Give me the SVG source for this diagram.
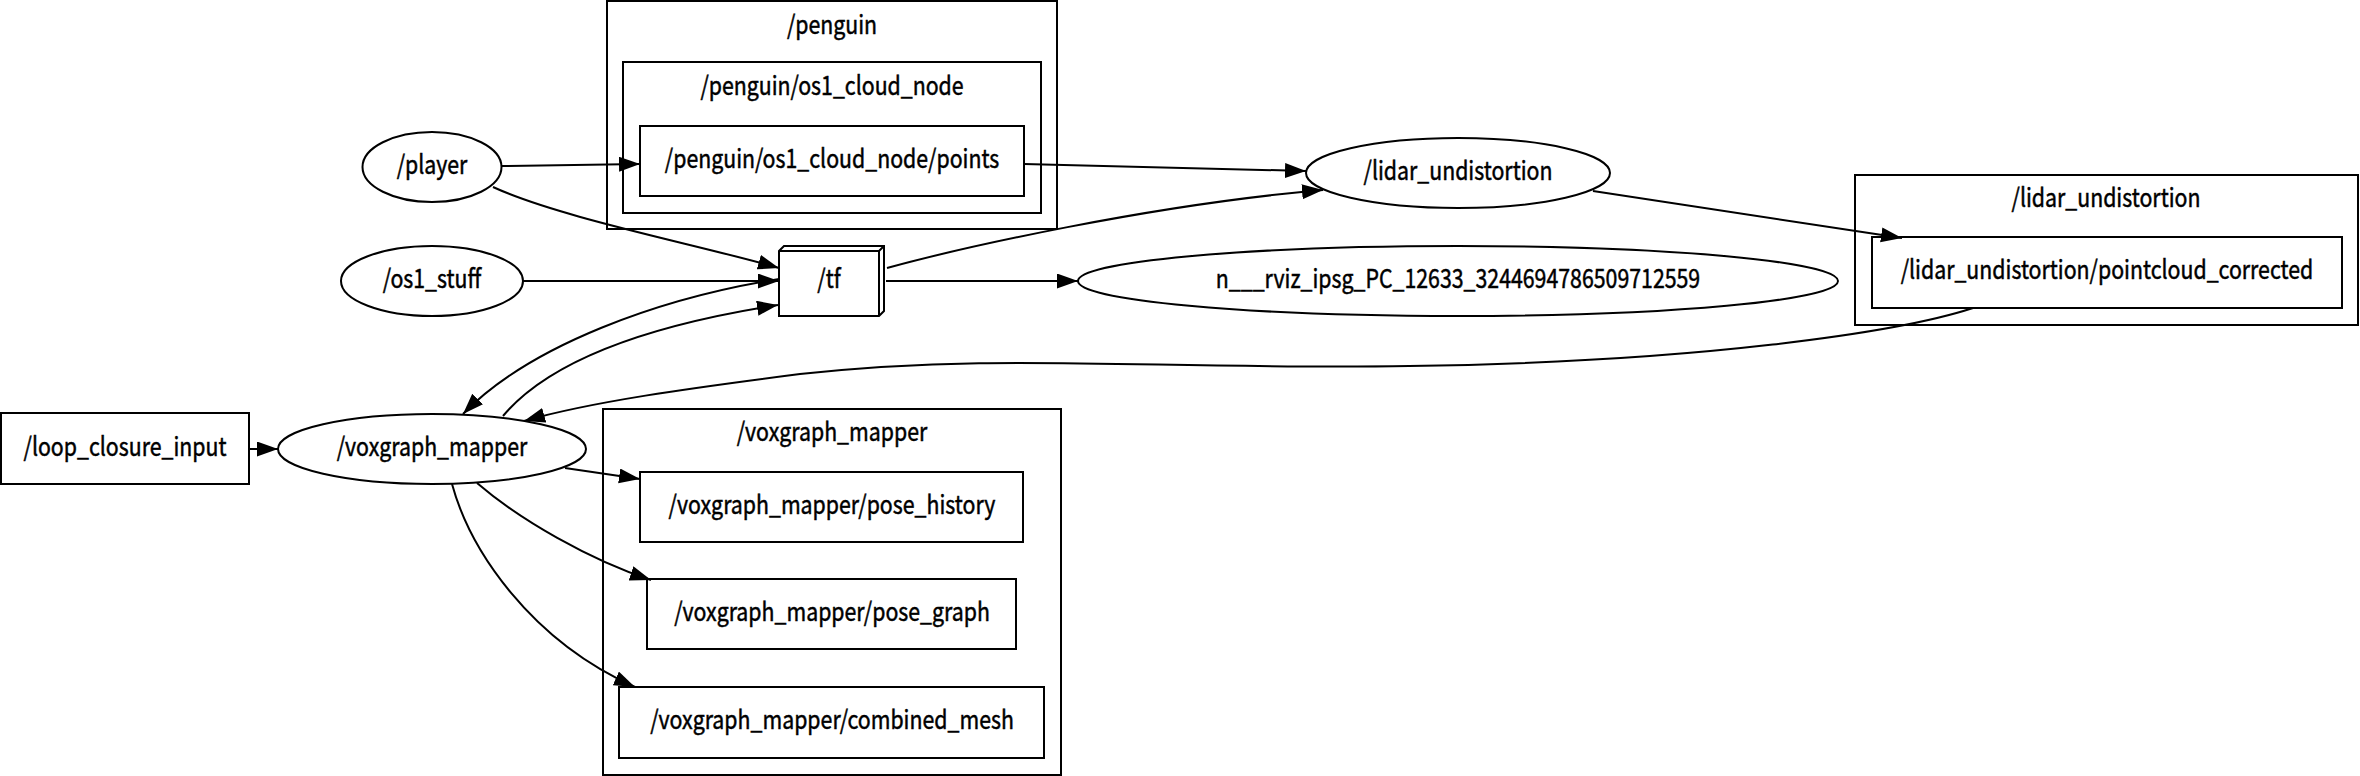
<svg xmlns="http://www.w3.org/2000/svg" width="2360" height="776" viewBox="0 0 2360 776">
<style>
.shape{fill:none;stroke:#000;stroke-width:2}
.node{fill:#fff;stroke:#000;stroke-width:2}
text{font-family:"Noto Sans CJK SC","Source Sans Pro","Noto Sans",sans-serif;font-size:26px;fill:#000;stroke:#000;stroke-width:0.5;text-anchor:middle}
.edge{fill:none;stroke:#000;stroke-width:2;marker-end:url(#arr)}
</style>
<defs>
<marker id="arr" markerUnits="userSpaceOnUse" markerWidth="22" markerHeight="16" refX="21" refY="7.5" orient="auto">
<path d="M0,0 L21,7.5 L0,15 Z" fill="#000"/>
</marker>
</defs>
<rect width="2360" height="776" fill="#fff"/>
<g id="cluster_penguin">
<rect class="shape" x="607" y="1" width="450" height="228"/>
<text transform="translate(832 34) scale(0.82 1)">/penguin</text>
</g>
<g id="cluster_penguin_os1_cloud_node">
<rect class="shape" x="623" y="62" width="418" height="151"/>
<text transform="translate(832 95) scale(0.82 1)">/penguin/os1_cloud_node</text>
</g>
<g id="node_points">
<rect class="node" x="640" y="126" width="384" height="70"/>
<text transform="translate(832 168) scale(0.82 1)">/penguin/os1_cloud_node/points</text>
</g>
<g id="cluster_lidar_undistortion">
<rect class="shape" x="1855" y="175" width="503" height="150"/>
<text transform="translate(2106 207) scale(0.82 1)">/lidar_undistortion</text>
</g>
<g id="node_pointcloud_corrected">
<rect class="node" x="1872" y="237" width="470" height="71"/>
<text transform="translate(2107 279) scale(0.82 1)">/lidar_undistortion/pointcloud_corrected</text>
</g>
<g id="cluster_voxgraph_mapper">
<rect class="shape" x="603" y="409" width="458" height="366"/>
<text transform="translate(832 441) scale(0.82 1)">/voxgraph_mapper</text>
</g>
<g id="node_pose_history">
<rect class="node" x="640" y="472" width="383" height="70"/>
<text transform="translate(832 514) scale(0.82 1)">/voxgraph_mapper/pose_history</text>
</g>
<g id="node_pose_graph">
<rect class="node" x="647" y="579" width="369" height="70"/>
<text transform="translate(832 621) scale(0.82 1)">/voxgraph_mapper/pose_graph</text>
</g>
<g id="node_combined_mesh">
<rect class="node" x="619" y="687" width="425" height="71"/>
<text transform="translate(832 729) scale(0.82 1)">/voxgraph_mapper/combined_mesh</text>
</g>
<g id="node_loop_closure_input">
<rect class="node" x="1" y="413" width="248" height="71"/>
<text transform="translate(125 456) scale(0.82 1)">/loop_closure_input</text>
</g>
<g id="node_player">
<ellipse class="node" cx="432" cy="167" rx="69.5" ry="35"/>
<text transform="translate(432 174) scale(0.82 1)">/player</text>
</g>
<g id="node_os1_stuff">
<ellipse class="node" cx="432" cy="281" rx="91" ry="35"/>
<text transform="translate(432 288) scale(0.82 1)">/os1_stuff</text>
</g>
<g id="node_tf">
<polygon class="node" points="779,251 784,246 884,246 884,311 879,316 779,316"/>
<path class="shape" d="M779,251 L879,251 L884,246 M879,251 L879,316"/>
<text transform="translate(829 288) scale(0.82 1)">/tf</text>
</g>
<g id="node_lidar_undistortion">
<ellipse class="node" cx="1458" cy="173" rx="152" ry="35"/>
<text transform="translate(1458 180) scale(0.82 1)">/lidar_undistortion</text>
</g>
<g id="node_rviz">
<ellipse class="node" cx="1458" cy="281" rx="380" ry="35"/>
<text transform="translate(1458 288) scale(0.82 1)">n___rviz_ipsg_PC_12633_3244694786509712559</text>
</g>
<g id="node_voxgraph_mapper">
<ellipse class="node" cx="432" cy="449" rx="154" ry="35"/>
<text transform="translate(432 456) scale(0.82 1)">/voxgraph_mapper</text>
</g>
<g id="edges">
<path class="edge" d="M502,166 L640,164"/>
<path class="edge" d="M493,187 C560,218 700,245 779,268"/>
<path class="edge" d="M523,281 L779,281"/>
<path class="edge" d="M886,281 L1078,281"/>
<path class="edge" d="M1024,164 L1306,171"/>
<path class="edge" d="M887,268 C960,248 1150,205 1323,190"/>
<path class="edge" d="M1593,191 L1902,238"/>
<path class="edge" d="M1973,308 C1900,332 1700,362 1409,366 C1150,370 1000,352 800,374 C690,388 590,402 524,421"/>
<path class="edge" d="M779,279 C660,298 530,345 463,414"/>
<path class="edge" d="M503,416 C550,360 650,325 778,305"/>
<path class="edge" d="M249,449 L278,449"/>
<path class="edge" d="M565,468 L640,479"/>
<path class="edge" d="M477,483 C520,520 590,560 651,580"/>
<path class="edge" d="M452,484 C470,550 530,640 635,687"/>
</g>
</svg>
